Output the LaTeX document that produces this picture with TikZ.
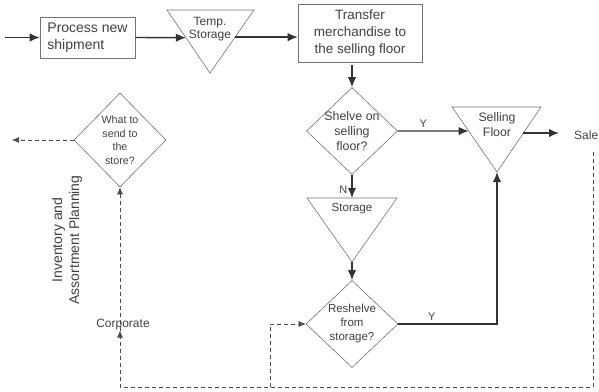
\documentclass[tikz,border=0pt]{standalone}
\usepackage{fontspec}
\setmainfont{Liberation Sans}
\usetikzlibrary{shapes.geometric,positioning,arrows.meta,calc}

\begin{document}
\begin{tikzpicture}[x=1pt,y=-1pt,
  box/.style={draw=black!55, line width=0.6pt, rectangle, inner sep=0pt, text=black!75},
  dia/.style={draw=black!55, line width=0.6pt, diamond, inner sep=-3pt, align=center, text=black!75},
  tri/.style={draw=black!55, line width=0.6pt, line join=miter},
  lbl/.style={inner sep=0pt, align=center, text=black!75},
  arr/.style={draw=black!80, line width=1.4pt, -{Latex[length=10pt,width=8.5pt]}},
  dsh/.style={draw=black!70, line width=0.6pt, dash pattern=on 4pt off 3pt, -{Latex[length=7pt,width=6pt]}}]
  \useasboundingbox (0,0) rectangle (599,391);
  % top row
  \node[box, minimum width=95pt, minimum height=41pt, align=left, font=\fontsize{14}{17}\selectfont] (proc) at (87.5,37.5) {Process new\\shipment};
  \coordinate (tmpA) at (167,10); \coordinate (tmpB) at (254,10); \coordinate (tmpC) at (210,73);
  \draw[tri] (tmpA) -- (tmpB) -- (tmpC) -- cycle;
  \node[lbl, font=\fontsize{12}{13}\selectfont] (tmp) at (210,29) {Temp.\\Storage};
  \node[box, minimum width=124pt, minimum height=58pt, align=center, font=\fontsize{13.5}{17}\selectfont] (trans) at (360,33) {Transfer\\merchandise to\\the selling floor};
  \coordinate (inL) at (5,37.5);
  \coordinate (tmpL) at ($(tmpA)!.44!(tmpC)$);
  \coordinate (tmpR) at ($(tmpB)!.43!(tmpC)$);
  \draw[arr] (inL) -- (proc.west);
  \draw[arr] (proc.east) -- (tmpL);
  \draw[arr] (tmpR) -- (tmpR -| trans.west);
  % store side
  \node[dia, minimum width=91pt, minimum height=87pt, font=\fontsize{12.4}{15}\selectfont] (shel) at (352,131) {Shelve on\\selling\\floor?};
  \draw[arr, shorten <=3pt] (shel.north |- trans.south) -- (shel.north);
  \coordinate (selA) at (452,107); \coordinate (selB) at (541,107); \coordinate (selC) at (497,172);
  \draw[tri] (selA) -- (selB) -- (selC) -- cycle;
  \node[lbl, font=\fontsize{12.3}{15}\selectfont] (sel) at (497,124.5) {Selling\\Floor};
  \coordinate (selL) at ($(selA)!.37!(selC)$);
  \coordinate (selR) at ($(selB)!.40!(selC)$);
  \draw[arr] (shel.east) -- node[lbl, pos=.36, above=3pt, font=\fontsize{11}{13}\selectfont] (y1) {Y} (selL);
  \node[lbl, anchor=west, font=\fontsize{12}{14}\selectfont] (sale) at (574,135) {Sale};
  \draw[arr] (selR) -- ([xshift=-15pt]sale.west |- selR);
  \coordinate (stoA) at (307,198); \coordinate (stoB) at (397,198); \coordinate (stoC) at (352,262);
  \draw[tri] (stoA) -- (stoB) -- (stoC) -- cycle;
  \node[lbl, font=\fontsize{11.7}{14}\selectfont] (sto) at (352,209) {Storage};
  \draw[arr] (shel.south) -- node[lbl, pos=.64, left=4pt, font=\fontsize{11}{13}\selectfont] (n1) {N} (shel.south |- stoA);
  \node[dia, minimum width=92pt, minimum height=87pt, font=\fontsize{11.5}{14}\selectfont] (resh) at (352,324) {Reshelve\\from\\storage?};
  \draw[arr] (stoC) -- (resh.north);
  \draw[arr] (resh.east) -| node[lbl, pos=.17, above=3pt, font=\fontsize{11}{13}\selectfont] (y2) {Y} (selC);
  % corporate side
  \node[dia, minimum width=92pt, minimum height=94pt, font=\fontsize{10.7}{13.5}\selectfont] (wht) at (120,140) {What to\\send to\\the\\store?};
  \node[lbl, rotate=90, font=\fontsize{14}{17}\selectfont] (inv) at (67,240) {Inventory and\\Assortment Planning};
  \node[lbl, font=\fontsize{12}{14}\selectfont] (corp) at (123,325) {Corporate};
  \coordinate (outL) at (12,140);
  \coordinate (s1) at (593,152); \coordinate (bR) at (593,387);
  \coordinate (bL) at (120,387); \coordinate (bM) at (270,387);
  \draw[dsh] (wht.west) -- (outL);
  \draw[dsh] (s1) -- (bR) -- (bL) -- (bL |- corp.south);
  \draw[dsh] (bL |- corp.south) -- (wht.south);
  \draw[dsh] (bM) |- (resh.west);
\end{tikzpicture}
\end{document}
